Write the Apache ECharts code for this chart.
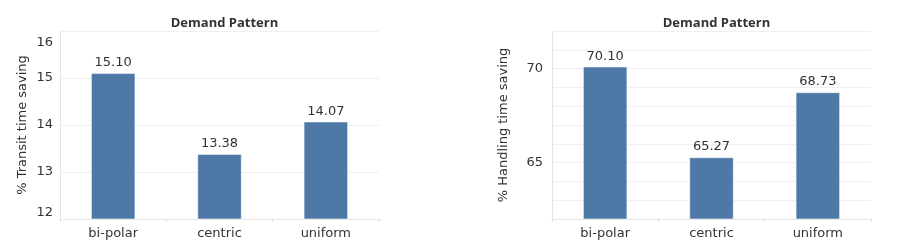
<!DOCTYPE html>
<html><head><meta charset="utf-8">
<script src="https://cdn.jsdelivr.net/npm/echarts@6/dist/echarts.min.js"></script>
<style>html,body{margin:0;padding:0;background:#fff}#c{width:898px;height:251px}</style>
</head><body><div id="c"></div>
<script>
const categories = ['bi-polar', 'centric', 'uniform'];
const transitSaving = [15.10, 13.38, 14.07];
const handlingSaving = [70.10, 65.27, 68.73];
const titleText = 'Demand Pattern';
const leftAxisName = '% Transit time saving';
const rightAxisName = '% Handling time saving';

const FONT = '"DejaVu Sans", sans-serif';
const TFONT = '"Open Sans", sans-serif';
const BAR = '#4e79a7';
const GRIDC = '#efefef';
const TXT = '#333';

function xAxis(gi){
  return {
    type:'category', gridIndex:gi, data:categories,
    axisLine:{show:true,lineStyle:{color:'#e6e6e6'}},
    axisTick:{show:true,length:3,lineStyle:{color:'#dcdcdc'}},
    axisLabel:{color:TXT,fontSize:13,fontFamily:FONT,margin:8},
    splitLine:{show:false}
  };
}
const option = {
  animation:false,
  backgroundColor:'#fff',
  title:[
    {text:titleText,left:219.5,top:12,textAlign:'center',textStyle:{fontSize:13,fontWeight:'bold',color:TXT,fontFamily:TFONT}},
    {text:titleText,left:711.5,top:12,textAlign:'center',textStyle:{fontSize:13,fontWeight:'bold',color:TXT,fontFamily:TFONT}}
  ],
  grid:[
    {left:60,width:319,top:31,height:188},
    {left:552,width:319,top:31,height:188}
  ],
  xAxis:[xAxis(0),xAxis(1)],
  yAxis:[
    {type:'value',gridIndex:0,min:12,max:16,interval:1,
     name:leftAxisName,nameLocation:'middle',nameGap:31,
     nameTextStyle:{fontSize:13,color:TXT,fontFamily:FONT},
     axisLine:{show:true,lineStyle:{color:'#e6e6e6'}},axisTick:{show:false},
     axisLabel:{color:TXT,fontSize:13,fontFamily:FONT,margin:7,
       verticalAlignMinLabel:'bottom',verticalAlignMaxLabel:'top',
       formatter:v=> (v===16 ? '{t|' + v + '}' : String(v)),
       rich:{t:{fontSize:13,fontFamily:FONT,color:TXT,padding:[5,0,0,0]}}},
     splitLine:{show:true,lineStyle:{color:GRIDC}}},
    {type:'value',gridIndex:1,min:62,max:72,interval:1,
     name:rightAxisName,nameLocation:'middle',nameGap:42,
     nameTextStyle:{fontSize:13,color:TXT,fontFamily:FONT},
     axisLine:{show:true,lineStyle:{color:'#e6e6e6'}},axisTick:{show:false},
     axisLabel:{color:TXT,fontSize:13,fontFamily:FONT,margin:9,
       formatter:v=> (v%5===0 ? String(v) : '')},
     splitLine:{show:true,lineStyle:{color:GRIDC}}}
  ],
  series:[
    {type:'bar',xAxisIndex:0,yAxisIndex:0,data:transitSaving,barWidth:44,
     itemStyle:{color:BAR,borderColor:'#fff',borderWidth:0.5},
     label:{show:true,position:'top',distance:4,color:TXT,fontSize:13,fontFamily:FONT,formatter:p=>p.value.toFixed(2)}},
    {type:'bar',xAxisIndex:1,yAxisIndex:1,data:handlingSaving,barWidth:44,
     itemStyle:{color:BAR,borderColor:'#fff',borderWidth:0.5},
     label:{show:true,position:'top',distance:4,color:TXT,fontSize:13,fontFamily:FONT,formatter:p=>p.value.toFixed(2)}}
  ]
};
echarts.init(document.getElementById('c'),null,{renderer:'canvas'}).setOption(option);
</script></body></html>
